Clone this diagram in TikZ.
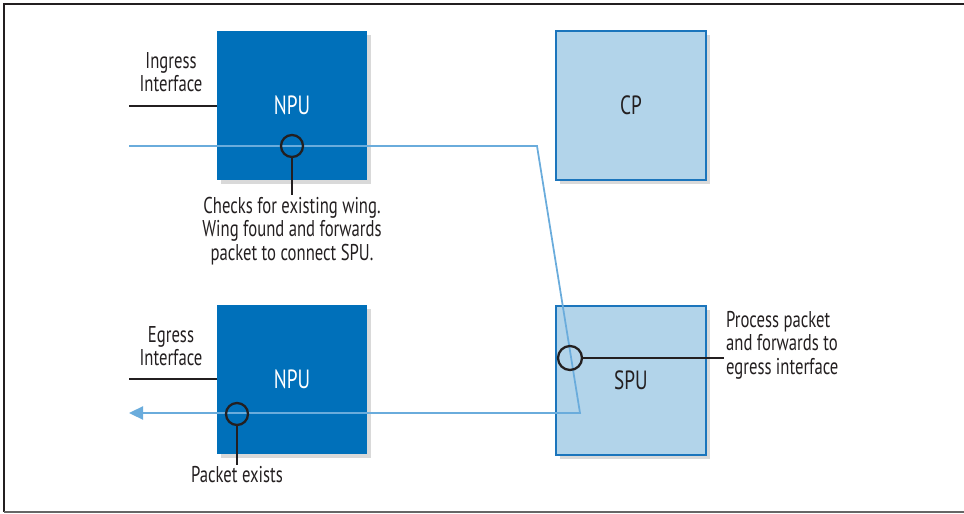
\documentclass[tikz,border=0pt]{standalone}
\usepackage{fontspec}
\setmainfont{PT Sans}[FakeStretch=0.73]
\usetikzlibrary{arrows.meta,shadows}
\definecolor{npublue}{RGB}{0,112,186}
\definecolor{boxline}{RGB}{27,117,188}
\definecolor{boxfill}{RGB}{178,212,234}
\definecolor{flowblue}{RGB}{106,172,220}
\definecolor{ink}{RGB}{35,31,32}
\begin{document}
\begin{tikzpicture}[x=0.02cm, y=-0.02cm,
	unit/.style={minimum width=3cm, minimum height=2.98cm, inner sep=0pt,
		drop shadow={shadow xshift=2pt, shadow yshift=-2pt, opacity=.3}},
	npu/.style={unit, fill=npublue, text=white, font=\fontsize{15}{15}\selectfont},
	light/.style={unit, fill=boxfill, draw=boxline, line width=1.4pt, text=ink, font=\fontsize{15}{15}\selectfont},
	note/.style={align=center, text=ink, inner sep=1pt, font=\fontsize{13}{13.4}\selectfont},
	probe/.style={circle, draw=ink, line width=1.3pt, minimum size=0.44cm, inner sep=0pt},
	wire/.style={draw=ink, line width=1.3pt},
	flow/.style={draw=flowblue, line width=1pt}
]
	\useasboundingbox (0,0) rectangle (964,514);
	% frame
	\draw[ink, line width=1pt] (968,4) -- (4,4) -- (4,512);
	\draw[black!60, line width=1.2pt] (4,512) -- (968,512);

	% units
	\node (npuin) [npu] at (292,105.5) {NPU};
	\node (npuout) [npu] at (292,379.5) {NPU};
	\node (cp) [light] at (631,105.5) {CP};
	\node (spu) [light] at (631,380.5) {SPU};

	% interfaces
	\coordinate (ingress) at (129,106);
	\coordinate (egress) at (129,379);
	\draw[wire] (ingress) -- (ingress -| npuin.west);
	\draw[wire] (egress) -- (egress -| npuout.west);
	\node (inglabel) [note] at (171,72) {Ingress\\Interface};
	\node (eglabel) [note] at (171,346) {Egress\\Interface};

	% packet path
	\coordinate (start) at (129,146);
	\coordinate (bendtop) at (537,146);
	\coordinate (bendlow) at (580,413);
	\coordinate (exit) at (129,413);
	\draw[flow, -{Triangle[length=8pt, width=7.5pt]}] (start) -- (bendtop) -- (bendlow) -- (exit);

	% probes
	\node (chkpt) [probe] at (292,146) {};
	\node (spupt) [probe, minimum size=0.48cm] at (570,358) {};
	\node (outpt) [probe] at (237,414) {};

	\node (chknote) [note] at (292,231) {Checks for existing wing.\\Wing found and forwards\\packet to connect SPU.};
	\node (spunote) [note, anchor=west, align=left] at (724,345) {Process packet\\and forwards to\\egress interface};
	\node (outnote) [note] at (237,475) {Packet exists};

	\draw[wire] (chkpt) -- (chknote);
	\draw[wire] (spupt) -- (spupt -| spunote.west);
	\draw[wire] (outpt) -- (outnote);
\end{tikzpicture}
\end{document}
